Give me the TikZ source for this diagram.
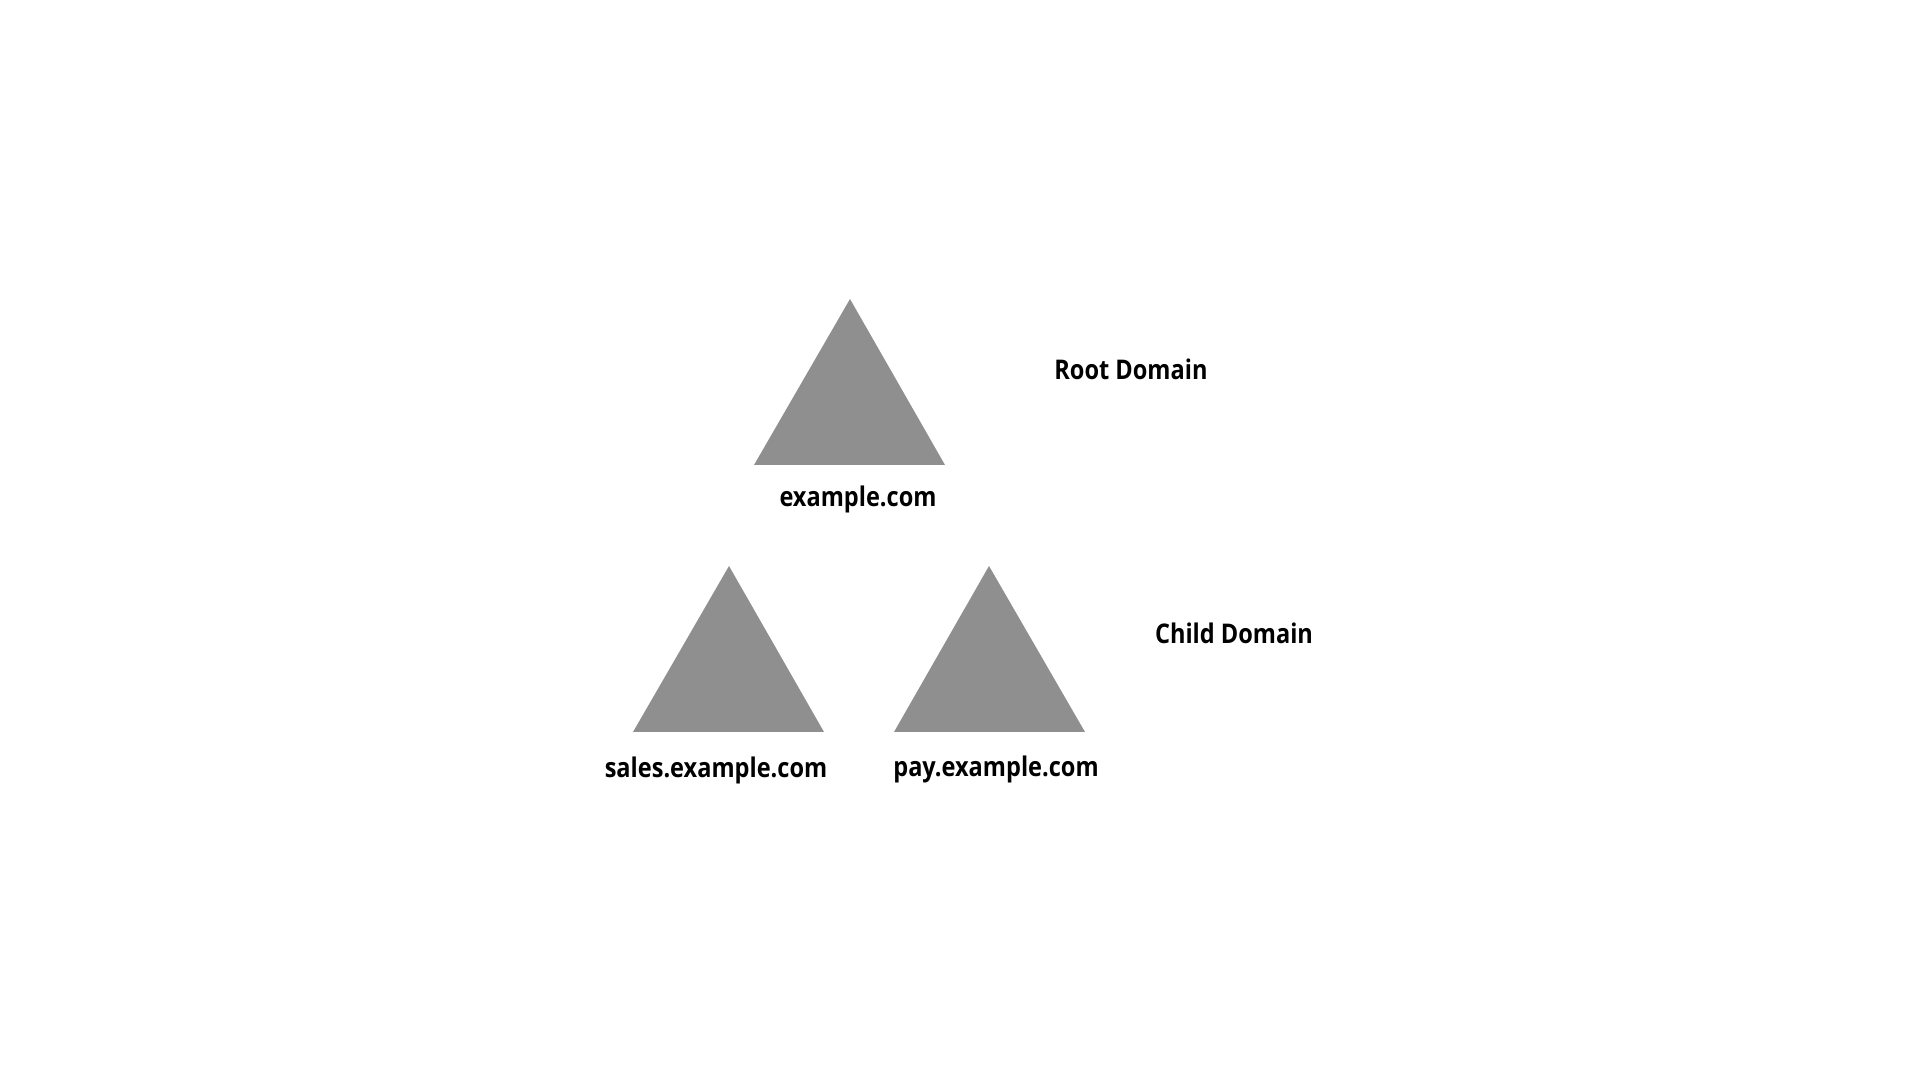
\documentclass[tikz,border=0pt]{standalone}
\usepackage{fontspec}
\setmainfont{Open Sans}[FakeStretch=0.87]
\definecolor{trigray}{HTML}{8F8F8F}
\begin{document}
\begin{tikzpicture}[x=0.01cm,y=-0.01cm]

	\def \rootrow{465}
	\def \childrow{732}
	\tikzstyle{tri}=[fill=trigray]
	\tikzstyle{dlabel}=[font=\bfseries\fontsize{7.7pt}{9pt}\selectfont,inner sep=0pt]
	\useasboundingbox (0,0) rectangle (1920,1080);

	% root domain
	\fill[tri] (850,299) -- (754,\rootrow) -- (945,\rootrow) -- cycle;
	\node[dlabel] 	(root)	at (858,499)	{example.com};
	\node[dlabel] 	(rootlabel)	at (1131,369)	{Root Domain};

	% child domains
	\fill[tri] (729,566) -- (633,\childrow) -- (824,\childrow) -- cycle;
	\fill[tri] (989,566) -- (894,\childrow) -- (1085,\childrow) -- cycle;
	\node[dlabel] 	(sales)	at (716,770)	{sales.example.com};
	\node[dlabel] 	(pay)	at (996,769)	{pay.example.com};
	\node[dlabel] 	(childlabel)	at (1234,633)	{Child Domain};
\end{tikzpicture}
\end{document}
